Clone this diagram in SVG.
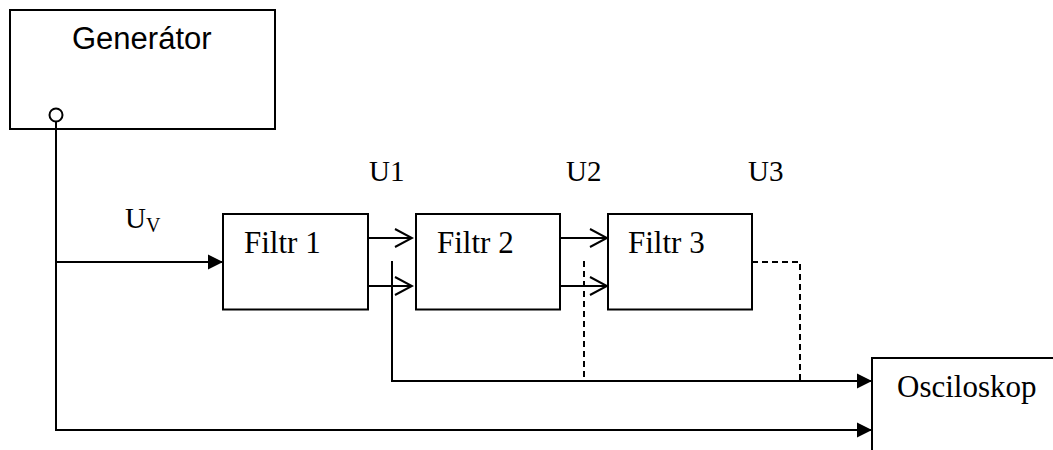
<svg xmlns="http://www.w3.org/2000/svg" width="1053" height="450" viewBox="0 0 1053 450">
<style>
.box{fill:#fff;stroke:#000;stroke-width:2}
.ln{fill:none;stroke:#000;stroke-width:2}
.dash{fill:none;stroke:#000;stroke-width:2;stroke-dasharray:6,4}
.t{font-family:"Liberation Serif","Times New Roman",serif;font-size:31px;fill:#000}
.s{font-family:"Liberation Sans",Arial,sans-serif;font-size:31px;fill:#000}
</style>
<defs>
<marker id="fa" markerUnits="userSpaceOnUse" markerWidth="16" markerHeight="16" refX="15" refY="8" orient="auto">
<path d="M0,0.5 L15,8 L0,15.5 Z" fill="#000"/>
</marker>
<marker id="oa" markerUnits="userSpaceOnUse" markerWidth="20" markerHeight="22" refX="18" refY="11" orient="auto">
<path d="M1,2 L18,11 L1,20" fill="none" stroke="#000" stroke-width="2"/>
</marker>
</defs>
<g id="generator">
<rect class="box" x="10" y="10" width="265" height="119"/>
<text class="s" x="72" y="49">Generátor</text>
<circle cx="56" cy="115" r="6.5" fill="#fff" stroke="#000" stroke-width="2"/>
</g>
<g id="filtr1">
<rect class="box" x="223" y="214" width="145" height="95.5"/>
<text class="t" x="244" y="253">Filtr 1</text>
</g>
<g id="filtr2">
<rect class="box" x="416" y="214" width="144" height="95.5"/>
<text class="t" x="437" y="253">Filtr 2</text>
</g>
<g id="filtr3">
<rect class="box" x="608" y="214" width="144" height="95.5"/>
<text class="t" x="628" y="253">Filtr 3</text>
</g>
<g id="osciloskop">
<rect class="box" x="872" y="358" width="200" height="110"/>
<text class="t" x="897" y="397">Osciloskop</text>
</g>
<g id="labels">
<text class="t" x="369" y="181" style="font-size:29px">U1</text>
<text class="t" x="566" y="181" style="font-size:29px">U2</text>
<text class="t" x="748" y="181" style="font-size:29px">U3</text>
<text class="t" x="125" y="228" style="font-size:29px">U<tspan dy="4" style="font-size:20px">V</tspan></text>
</g>
<g id="connectors">
<polyline class="ln" points="56,121.5 56,430 872,430" marker-end="url(#fa)"/>
<line class="ln" x1="56" y1="262" x2="223" y2="262" marker-end="url(#fa)"/>
<line class="ln" x1="368" y1="238" x2="412" y2="238" marker-end="url(#oa)"/>
<line class="ln" x1="368" y1="286" x2="412" y2="286" marker-end="url(#oa)"/>
<line class="ln" x1="560" y1="238" x2="607" y2="238" marker-end="url(#oa)"/>
<line class="ln" x1="560" y1="286" x2="607" y2="286" marker-end="url(#oa)"/>
<polyline class="ln" points="392,261 392,381 872,381" marker-end="url(#fa)"/>
<line class="dash" x1="584" y1="261" x2="584" y2="381"/>
<polyline class="dash" points="752,262 800,262 800,380"/>
</g>
</svg>
